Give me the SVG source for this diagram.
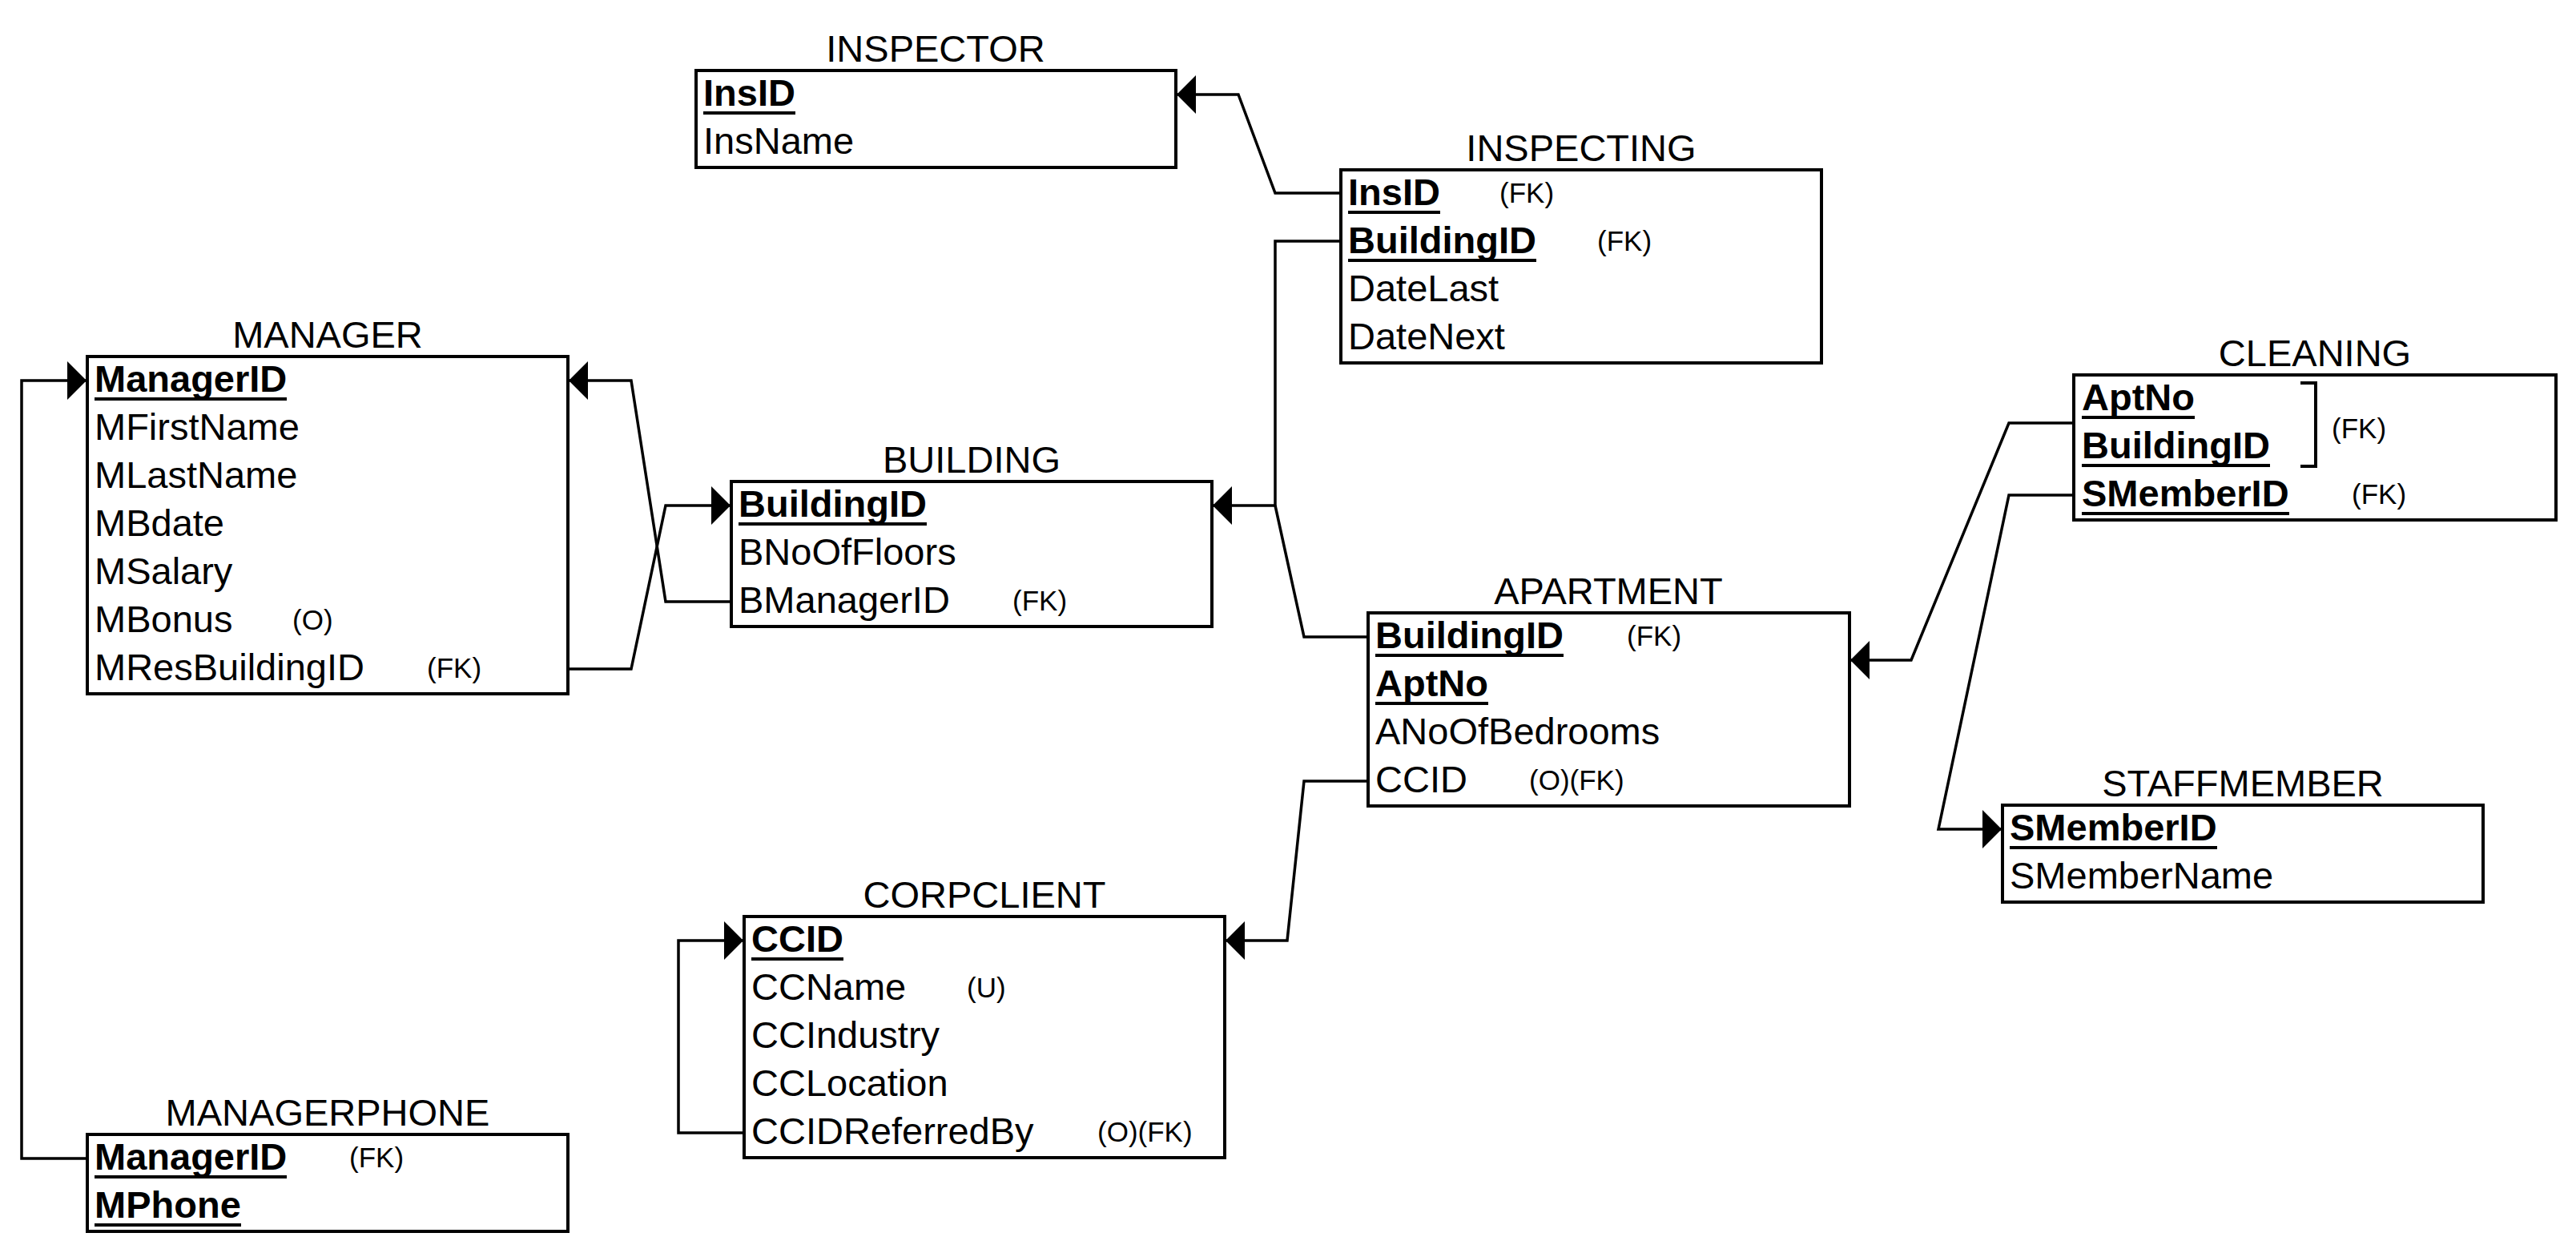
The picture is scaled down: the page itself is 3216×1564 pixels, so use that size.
<svg xmlns="http://www.w3.org/2000/svg" width="3216" height="1564" viewBox="0 0 3216 1564">
<style>
text{font-family:"Liberation Sans",Arial,sans-serif;fill:#000}
.t{font-size:47px;text-anchor:middle}
.r{font-size:47px}
.k{font-size:47px;font-weight:bold}
.s{font-size:35px}
.box{fill:#fff;stroke:#000;stroke-width:4}
.u{stroke:#000;stroke-width:4}
.c{fill:none;stroke:#000;stroke-width:3.5;stroke-linejoin:miter}
</style>
<defs>
<marker id="ar" markerUnits="userSpaceOnUse" viewBox="0 0 24 48" refX="24" refY="24" markerWidth="24" markerHeight="48" orient="auto">
<path d="M0,0 L24,24 L0,48 Z" fill="#000"/>
</marker>
</defs>
<rect width="3216" height="1564" fill="#fff"/>

<g id="connectors">
<polyline class="c" points="1674,241 1592,241 1546,118 1469,118" marker-end="url(#ar)"/>
<polyline class="c" points="1674,301 1592,301 1592,631 1514,631" marker-end="url(#ar)"/>
<polyline class="c" points="1708,795 1628,795 1592,631"/>
<polyline class="c" points="709,835 788,835 831,631 912,631" marker-end="url(#ar)"/>
<polyline class="c" points="913,751 831,751 788,475 710,475" marker-end="url(#ar)"/>
<polyline class="c" points="109,1446 27,1446 27,475 108,475" marker-end="url(#ar)"/>
<polyline class="c" points="929,1414 847,1414 847,1174 928,1174" marker-end="url(#ar)"/>
<polyline class="c" points="1708,975 1628,975 1607,1174 1530,1174" marker-end="url(#ar)"/>
<polyline class="c" points="2589,528 2508,528 2386,824 2310,824" marker-end="url(#ar)"/>
<polyline class="c" points="2589,618 2508,618 2420,1035 2499,1035" marker-end="url(#ar)"/>
</g>

<g id="inspector">
<text class="t" x="1168" y="77">INSPECTOR</text>
<rect class="box" x="869" y="88" width="599" height="121"/>
<text class="k" x="878" y="132">InsID</text>
<line class="u" x1="878" y1="141" x2="993" y2="141"/>
<text class="r" x="878" y="192">InsName</text>
</g>

<g id="inspecting">
<text class="t" x="1974" y="201">INSPECTING</text>
<rect class="box" x="1674" y="212" width="600" height="241"/>
<text class="k" x="1683" y="256">InsID</text>
<line class="u" x1="1683" y1="265" x2="1798" y2="265"/>
<text class="s" x="1872" y="253">(FK)</text>
<text class="k" x="1683" y="316">BuildingID</text>
<line class="u" x1="1683" y1="325" x2="1918" y2="325"/>
<text class="s" x="1994" y="313">(FK)</text>
<text class="r" x="1683" y="376">DateLast</text>
<text class="r" x="1683" y="436">DateNext</text>
</g>

<g id="manager">
<text class="t" x="409" y="434">MANAGER</text>
<rect class="box" x="109" y="445" width="600" height="421"/>
<text class="k" x="118" y="489">ManagerID</text>
<line class="u" x1="118" y1="498" x2="358" y2="498"/>
<text class="r" x="118" y="549">MFirstName</text>
<text class="r" x="118" y="609">MLastName</text>
<text class="r" x="118" y="669">MBdate</text>
<text class="r" x="118" y="729">MSalary</text>
<text class="r" x="118" y="789">MBonus</text>
<text class="s" x="365" y="786">(O)</text>
<text class="r" x="118" y="849">MResBuildingID</text>
<text class="s" x="533" y="846">(FK)</text>
</g>

<g id="building">
<text class="t" x="1213" y="590">BUILDING</text>
<rect class="box" x="913" y="601" width="600" height="181"/>
<text class="k" x="922" y="645">BuildingID</text>
<line class="u" x1="922" y1="654" x2="1157" y2="654"/>
<text class="r" x="922" y="705">BNoOfFloors</text>
<text class="r" x="922" y="765">BManagerID</text>
<text class="s" x="1264" y="762">(FK)</text>
</g>

<g id="apartment">
<text class="t" x="2008" y="754">APARTMENT</text>
<rect class="box" x="1708" y="765" width="601" height="241"/>
<text class="k" x="1717" y="809">BuildingID</text>
<line class="u" x1="1717" y1="818" x2="1952" y2="818"/>
<text class="s" x="2031" y="806">(FK)</text>
<text class="k" x="1717" y="869">AptNo</text>
<line class="u" x1="1717" y1="878" x2="1858" y2="878"/>
<text class="r" x="1717" y="929">ANoOfBedrooms</text>
<text class="r" x="1717" y="989">CCID</text>
<text class="s" x="1909" y="986">(O)(FK)</text>
</g>

<g id="cleaning">
<text class="t" x="2890" y="457">CLEANING</text>
<rect class="box" x="2589" y="468" width="602" height="181"/>
<text class="k" x="2599" y="512">AptNo</text>
<line class="u" x1="2599" y1="521" x2="2740" y2="521"/>
<text class="k" x="2599" y="572">BuildingID</text>
<line class="u" x1="2599" y1="581" x2="2834" y2="581"/>
<path d="M2872,478 H2891 V582 H2872" fill="none" stroke="#000" stroke-width="4"/>
<text class="s" x="2911" y="547">(FK)</text>
<text class="k" x="2599" y="632">SMemberID</text>
<line class="u" x1="2599" y1="641" x2="2858" y2="641"/>
<text class="s" x="2936" y="629">(FK)</text>
</g>

<g id="staffmember">
<text class="t" x="2800" y="994">STAFFMEMBER</text>
<rect class="box" x="2500" y="1005" width="600" height="121"/>
<text class="k" x="2509" y="1049">SMemberID</text>
<line class="u" x1="2509" y1="1058" x2="2768" y2="1058"/>
<text class="r" x="2509" y="1109">SMemberName</text>
</g>

<g id="corpclient">
<text class="t" x="1229" y="1133">CORPCLIENT</text>
<rect class="box" x="929" y="1144" width="600" height="301"/>
<text class="k" x="938" y="1188">CCID</text>
<line class="u" x1="938" y1="1197" x2="1053" y2="1197"/>
<text class="r" x="938" y="1248">CCName</text>
<text class="s" x="1207" y="1245">(U)</text>
<text class="r" x="938" y="1308">CCIndustry</text>
<text class="r" x="938" y="1368">CCLocation</text>
<text class="r" x="938" y="1428">CCIDReferredBy</text>
<text class="s" x="1370" y="1425">(O)(FK)</text>
</g>

<g id="managerphone">
<text class="t" x="409" y="1405">MANAGERPHONE</text>
<rect class="box" x="109" y="1416" width="600" height="121"/>
<text class="k" x="118" y="1460">ManagerID</text>
<line class="u" x1="118" y1="1469" x2="358" y2="1469"/>
<text class="s" x="436" y="1457">(FK)</text>
<text class="k" x="118" y="1520">MPhone</text>
<line class="u" x1="118" y1="1529" x2="301" y2="1529"/>
</g>
</svg>
